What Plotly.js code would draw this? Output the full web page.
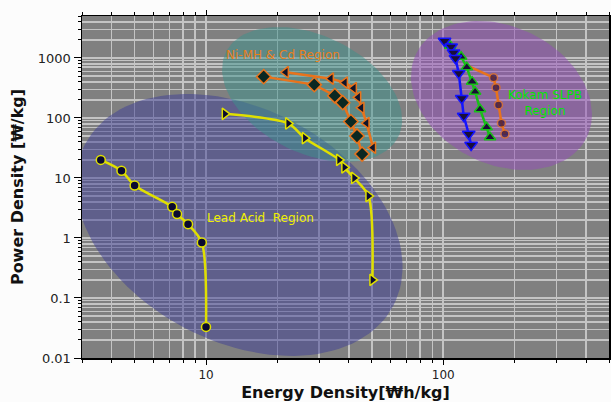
<!DOCTYPE html>
<html><head><meta charset="utf-8">
<script src="https://cdn.plot.ly/plotly-3.0.1.min.js"></script>
<style>html,body{margin:0;padding:0;background:#fcfcfc}</style>
</head><body><div id="chart" style="width:611px;height:402px"></div>
<script>
// ---- data ----
const leadAcidAEnergy = [3.6, 4.4, 5.0, 7.2, 7.55, 8.4, 9.6, 10.0];
const leadAcidAPower  = [20, 13.2, 7.5, 3.3, 2.5, 1.7, 0.84, 0.033];

const leadAcidBEnergy = [12, 22.2, 26.1, 36.4, 38.3, 42.1, 48.4, 50.3];
const leadAcidBPower  = [117, 81, 46, 20, 15, 10, 5.0, 0.2];

const nimhTriEnergy = [21.7, 33.6, 38.5, 42.0, 43.8, 45.2, 47.5, 50.6];
const nimhTriPower  = [578, 452, 388, 313, 221, 148, 82, 32];

const nimhDiaEnergy = [17.5, 28.6, 34.9, 37.7, 40.8, 43.3, 45.5];
const nimhDiaPower  = [488, 359, 235, 180, 87, 50, 25];

const kokamBlueEnergy = [101.3, 108, 110.5, 112.6, 116.3, 119.7, 122, 128.1, 131.1];
const kokamBluePower  = [1920, 1540, 1225, 990, 556, 213, 108, 54, 35.5];

const kokamGreenEnergy = [107, 119, 125.7, 132.4, 136.3, 143, 152.4, 157.5];
const kokamGreenPower  = [1600, 1050, 700, 403, 274, 140, 70, 47.7];

const kokamOrangeEnergy = [125, 163, 167, 171, 176, 182];
const kokamOrangePower  = [760, 469, 320, 165, 82, 54];

const regionNames = ['Lead Acid Region', 'Ni-MH & Cd Region', 'Kokam SLPB Region'];
const regionCenterEnergy = [13.8, 28, 176];
const regionCenterPower  = [1.65, 246, 237];

const xTickVals = [10, 100];
const xTickText = ['10', '100'];
const yTickVals = [0.01, 0.1, 1, 10, 100, 1000];
const yTickText = ['0.01', '0.1', '1', '10', '100', '1000'];

// ---- layout geometry ----
const W = 611, H = 402;
const M = {l: 82, r: 2, t: 16, b: 44};
const X_RANGE = [Math.log10(3), Math.log10(500)];
const Y_RANGE = [Math.log10(0.01), Math.log10(5000)];
const pxPerDecX = (W - M.l - M.r) / (X_RANGE[1] - X_RANGE[0]);
const pxPerDecY = (H - M.t - M.b) / (Y_RANGE[1] - Y_RANGE[0]);

function gridVals(lo, hi) {
  const out = [];
  for (let e = lo; e <= hi; e++) for (let m = 2; m <= 9; m++) out.push(m * Math.pow(10, e));
  return out;
}

// ellipse region outline in screen-pixel radii, rotated (deg, clockwise on screen)
function ellipse(cE, cP, a, b, deg) {
  const th = deg * Math.PI / 180, xs = [], ys = [];
  for (let i = 0; i <= 120; i++) {
    const t = i / 120 * 2 * Math.PI;
    const dx = a * Math.cos(t) * Math.cos(th) - b * Math.sin(t) * Math.sin(th);
    const dy = a * Math.cos(t) * Math.sin(th) + b * Math.sin(t) * Math.cos(th);
    xs.push(Math.pow(10, Math.log10(cE) + dx / pxPerDecX));
    ys.push(Math.pow(10, Math.log10(cP) - dy / pxPerDecY));
  }
  return {xs, ys};
}

const regionStyle = [
  {a: 174, b: 116.5, deg: 27.6, fill: 'rgba(62,62,150,0.5)'},
  {a: 96, b: 58.7, deg: 26, fill: 'rgba(60,145,140,0.5)'},
  {a: 95, b: 68.7, deg: 26.1, fill: 'rgba(148,76,186,0.5)'}
];

const traces = [];
regionNames.forEach((n, i) => {
  const s = regionStyle[i];
  const e = ellipse(regionCenterEnergy[i], regionCenterPower[i], s.a, s.b, s.deg);
  traces.push({x: e.xs, y: e.ys, type: 'scatter', mode: 'lines', fill: 'toself',
    fillcolor: s.fill, line: {width: 0}, hoverinfo: 'skip', showlegend: false, name: n});
});

const YEL = '#e0e000', ORG = '#e8731c', BLU = '#1414ff', GRN = '#18c018';
function series(x, y, color, symbol, size, fillc, shape) {
  return {x, y, type: 'scatter', mode: 'lines+markers', showlegend: false, hoverinfo: 'skip',
    line: {color, width: 2.5, shape: shape || 'linear', smoothing: 0.8},
    marker: {symbol, size, color: fillc, line: {color, width: 1.5}}};
}
traces.push(series(leadAcidAEnergy, leadAcidAPower, YEL, 'circle', 9, '#0a0a30', 'spline'));
traces.push(series(leadAcidBEnergy, leadAcidBPower, YEL, 'triangle-right', 10, '#0a0a30', 'spline'));
traces.push(series(nimhTriEnergy, nimhTriPower, ORG, 'triangle-left', 10, '#10142a'));
traces.push(series(nimhDiaEnergy, nimhDiaPower, ORG, 'diamond', 11, '#0b2822'));
const orTrace = series(kokamOrangeEnergy, kokamOrangePower, ORG, 'circle', 8, '#2a0f40');
orTrace.marker.size = [0, 8, 8, 8, 8, 8];
traces.push(orTrace);
traces.push(series(kokamGreenEnergy, kokamGreenPower, GRN, 'triangle-up', 10, '#1a0f34'));
traces.push(series(kokamBlueEnergy, kokamBluePower, BLU, 'triangle-down', 11, '#1a0f3a'));

const GRID = '#c4c4c4';
const axisCommon = {
  type: 'log', showgrid: true, gridcolor: GRID, gridwidth: 1.5, zeroline: false,
  showline: true, linecolor: '#000', linewidth: 1.5, mirror: 'ticks',
  ticks: 'outside', tickcolor: '#000', tickwidth: 1, tickmode: 'array'
};

const layout = {
  width: W, height: H, margin: M,
  paper_bgcolor: '#fcfcfc', plot_bgcolor: '#808080',
  showlegend: false,
  xaxis: Object.assign({}, axisCommon, {
    range: X_RANGE, tickvals: xTickVals, ticktext: xTickText, ticklen: 5,
    tickfont: {family: 'DejaVu Sans', size: 12, color: '#222'},
    minor: {tickmode: 'array', tickvals: gridVals(0, 2), showgrid: true, gridcolor: GRID, gridwidth: 1.5,
            ticks: 'outside', ticklen: 3, tickcolor: '#000'},
    title: {text: '<b>Energy Density[₩h/kg]</b>', font: {family: 'DejaVu Sans', size: 16, color: '#111'}, standoff: 8}
  }),
  yaxis: Object.assign({}, axisCommon, {
    range: Y_RANGE, tickvals: yTickVals, ticktext: yTickText, ticklen: 7,
    tickfont: {family: 'DejaVu Sans', size: 13, color: '#222'},
    minor: {tickmode: 'array', tickvals: gridVals(-2, 3), showgrid: true, gridcolor: GRID, gridwidth: 1.5,
            ticks: 'outside', ticklen: 3, tickcolor: '#000'},
    title: {text: '<b>Power Density [₩/kg]</b>', font: {family: 'DejaVu Sans', size: 16, color: '#111'}, standoff: 10}
  }),
  annotations: [
    {xref: 'x', yref: 'y', x: Math.log10(21.1), y: Math.log10(1120), text: 'Ni-MH & Cd Region', showarrow: false,
     font: {family: 'DejaVu Sans', size: 12, color: '#e8801e'}},
    {xref: 'x', yref: 'y', x: Math.log10(17.05), y: Math.log10(2.15), text: 'Lead Acid\u00a0 Region', showarrow: false,
     font: {family: 'DejaVu Sans', size: 12, color: '#f0f000'}},
    {xref: 'x', yref: 'y', x: Math.log10(268), y: Math.log10(178), text: 'Kokam SLPB<br>Region', showarrow: false,
     font: {family: 'DejaVu Sans', size: 12, color: '#00e800'}}
  ]
};

Plotly.newPlot('chart', traces, layout, {displayModeBar: false, staticPlot: true});
</script>
</body></html>
